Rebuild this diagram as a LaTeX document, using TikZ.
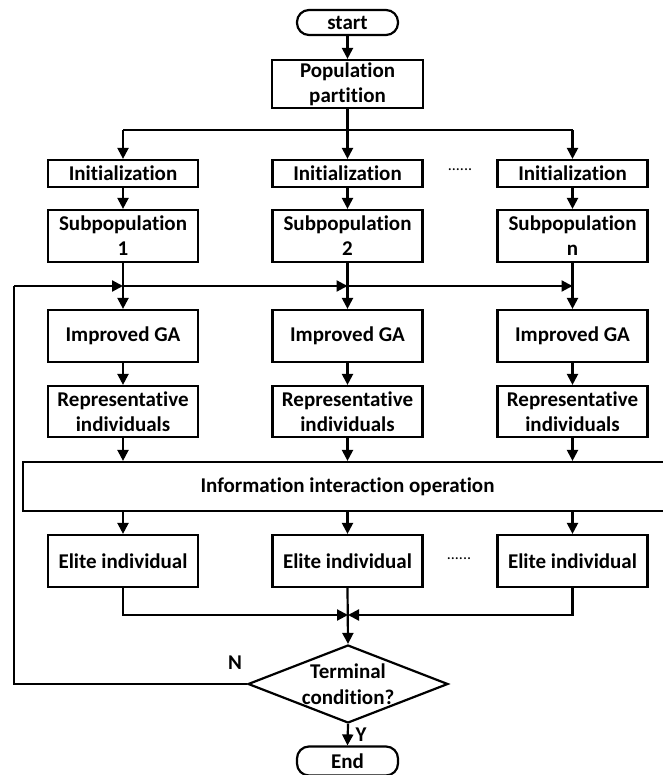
\documentclass[tikz,border=0pt]{standalone}
\usepackage{fontspec}
\setmainfont{Carlito}[Ligatures=NoCommon]
\usetikzlibrary{arrows.meta,shapes.geometric}
\begin{document}
\begin{tikzpicture}[x=1pt,y=-1pt,
  line width=2.2pt,
  font=\bfseries\fontsize{21}{25}\selectfont,
  >={Triangle[length=11pt,width=11pt]},
  box/.style={draw,rectangle,minimum width=150pt,inner sep=0pt,align=center},
  pill/.style={draw,rectangle,rounded corners=12pt,minimum width=101pt,inner sep=0pt},
  decision/.style={draw,diamond,aspect=2.56,minimum width=200pt,minimum height=78pt,inner sep=0pt,align=center,font=\bfseries\fontsize{21}{26}\selectfont},
  lbl/.style={inner sep=0pt},
  dots/.style={inner sep=0pt,font=\fontsize{16}{16}\selectfont}]
\useasboundingbox (0,0) rectangle (662,775);

% terminals and top box
\node[pill,minimum height=25pt] (start) at (347.5,22.5) {start};
\node[box,minimum width=151pt,minimum height=48pt] (part) at (347.5,84) {Population\\partition};

% three sub-population columns
\foreach \i/\x/\k in {1/123/1,2/347.5/2,3/572.5/n}{
  \node[box,minimum height=27pt] (init\i) at (\x,173.5) {Initialization};
  \node[box,minimum height=52pt] (sub\i) at (\x,236) {Subpopulation\\\k};
  \node[box,minimum height=52pt] (ga\i) at (\x,336) {Improved GA};
  \node[box,minimum height=51pt] (rep\i) at (\x,411.5) {Representative\\individuals};
  \node[box,minimum height=52pt] (elite\i) at (\x,561) {Elite individual};
}
\node[dots] (dotsA) at (460,170) {......};
\node[dots] (dotsB) at (459,559) {......};

% shared interaction stage
\node[box,minimum width=649pt,minimum height=49pt] (info) at (347.5,486.5) {Information interaction operation};

% termination test and end
\node[decision] (cond) at (348,684) {Terminal\\condition?};
\node[pill,minimum height=29pt] (end) at (347.5,761) {End};
\node[lbl] (nlab) at (235,663) {N};
\node[lbl] (ylab) at (361,735) {Y};

% splitting of the population
\coordinate (split) at (347.5,130);
\draw[->] (start) -- (part);
\draw (part.south) -- (split);
\draw (init1.north |- split) -- (init3.north |- split);
\foreach \i in {1,2,3}{
  \draw[->] (init\i.north |- split) -- (init\i.north);
  \draw[->] (init\i) -- (sub\i);
  \draw[->] (ga\i) -- (rep\i);
  \draw[->] (rep\i) -- (rep\i.south |- info.north);
  \draw[->] (elite\i.north |- info.south) -- (elite\i);
}

% feedback loop from the test back into each column
\coordinate (loopL) at (14,286);
\draw (cond.west) -| (loopL);
\draw[->] (loopL) -- (sub1.south |- loopL);
\draw[->] (sub1.south |- loopL) -- (sub2.south |- loopL);
\draw[->] (sub2.south |- loopL) -- (sub3.south |- loopL);
\foreach \i in {1,2,3}{
  \draw[->] (sub\i) -- (ga\i);
}

% merging of the elite individuals
\coordinate (merge) at (348,615);
\draw[->] (elite1.south) |- (merge);
\draw[->] (elite3.south) |- (merge);
\draw[->] (elite2.south) -- (cond.north);
\draw[->] (cond.south) -- (end.north);
\end{tikzpicture}
\end{document}
